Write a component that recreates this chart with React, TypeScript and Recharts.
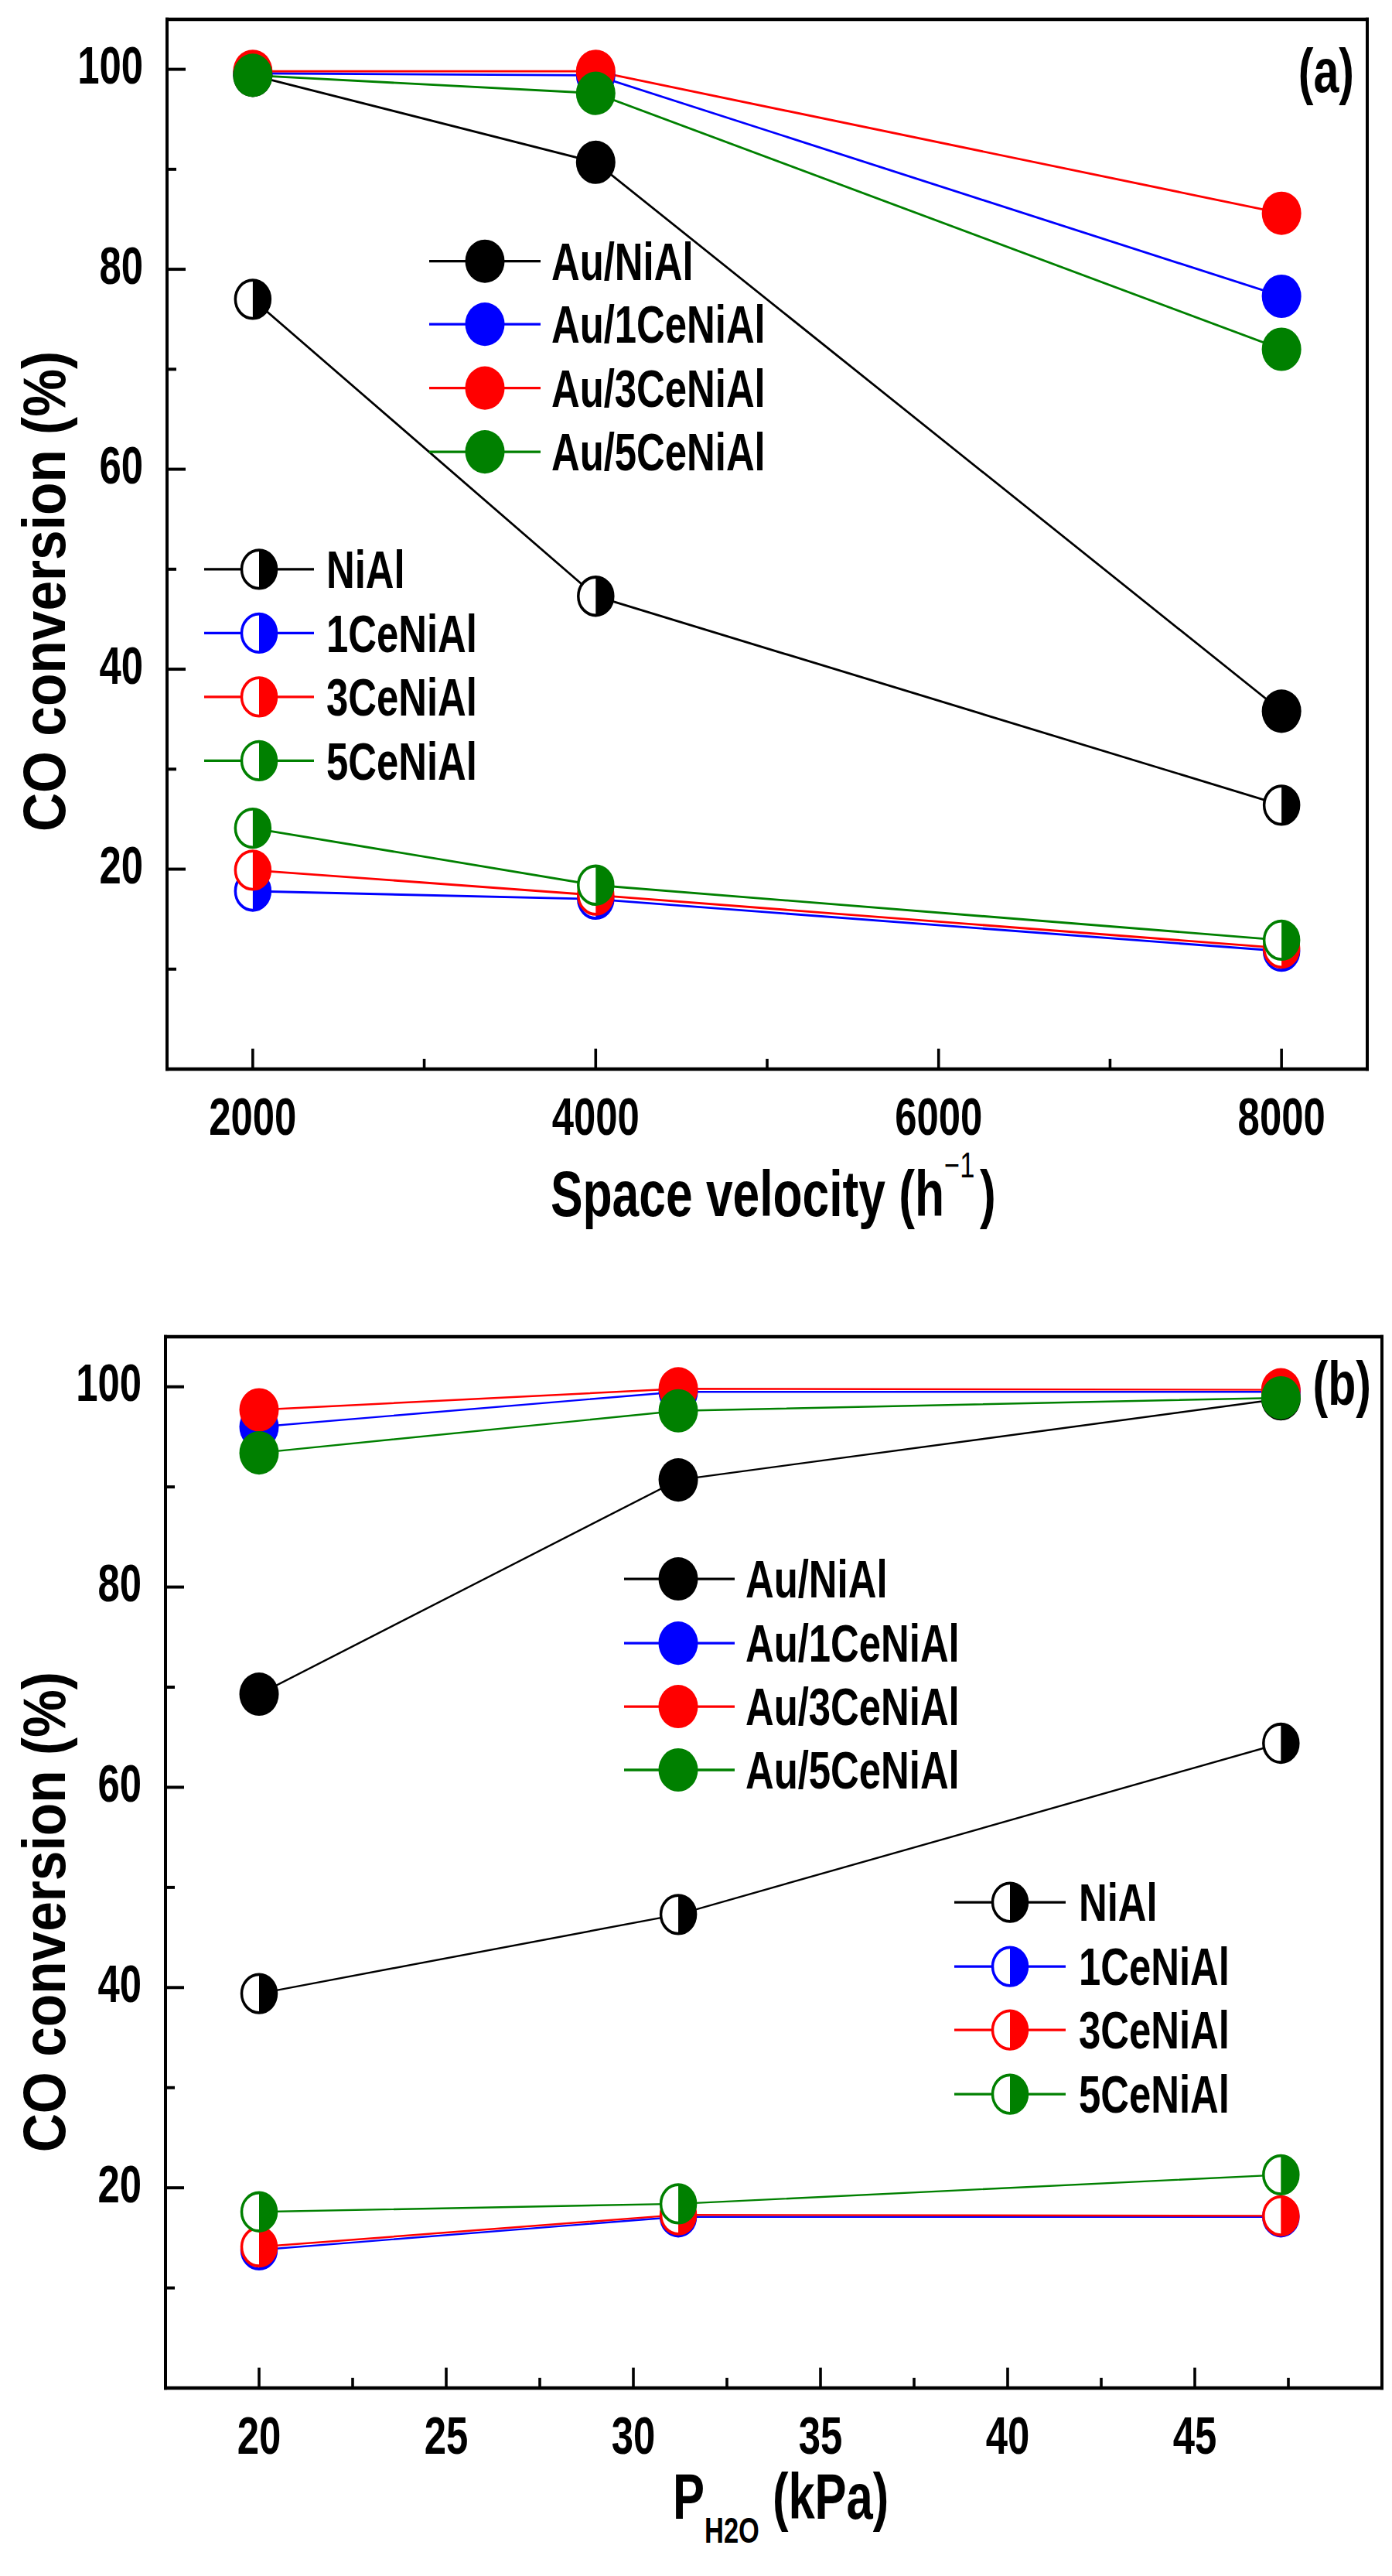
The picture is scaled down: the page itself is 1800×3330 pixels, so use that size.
import React from 'react';
import { LineChart, Line, XAxis, YAxis, ReferenceLine, Legend } from 'recharts';

// the source figure is stretched vertically by about 10%
const STRETCH = 1.1;
// Arial Narrow look: Liberation Sans Bold squeezed horizontally
const NARROW = 0.82;

const names = ['Au/NiAl', 'Au/1CeNiAl', 'Au/3CeNiAl', 'Au/5CeNiAl', 'NiAl', '1CeNiAl', '3CeNiAl', '5CeNiAl'];
const colors = ['#000000', '#0000ff', '#ff0000', '#008000', '#000000', '#0000ff', '#ff0000', '#008000'];

const yTicks = [10, 20, 30, 40, 50, 60, 70, 80, 90, 100];
const yLabels = [20, 40, 60, 80, 100];

// panel (a): space velocity
const velocity = [2000, 4000, 8000];
const velocityTicks = [2000, 3000, 4000, 5000, 6000, 7000, 8000];
const velocityLabels = [2000, 4000, 6000, 8000];
const auNiAlA = [99.4, 90.7, 35.8];
const au1CeA = [99.6, 99.4, 77.3];
const au3CeA = [99.8, 99.8, 85.6];
const au5CeA = [99.4, 97.6, 72.0];
const niAlA = [77.0, 47.3, 26.4];
const ce1A = [17.8, 17.0, 11.8];
const ce3A = [19.9, 17.4, 12.1];
const ce5A = [24.1, 18.4, 12.9];

// panel (b): water partial pressure
const pressure = [20, 31.2, 47.3];
const pressureTicks = [20, 22.5, 25, 27.5, 30, 32.5, 35, 37.5, 40, 42.5, 45, 47.5];
const pressureLabels = [20, 25, 30, 35, 40, 45];
const auNiAlB = [69.3, 90.7, 98.8];
const au1CeB = [96.0, 99.5, 99.5];
const au3CeB = [97.7, 99.8, 99.7];
const au5CeB = [93.4, 97.6, 98.9];
const niAlB = [39.4, 47.3, 64.4];
const ce1B = [13.8, 17.1, 17.1];
const ce3B = [14.1, 17.3, 17.2];
const ce5B = [17.6, 18.4, 21.3];

const KEYS = ['auNiAl', 'au1Ce', 'au3Ce', 'au5Ce', 'niAl', 'ce1', 'ce3', 'ce5'];

const buildRows = (xs: number[], series: number[][]) =>
  xs.map((x, i) => {
    const row: Record<string, number> = { x };
    KEYS.forEach((k, j) => (row[k] = series[j][i]));
    return row;
  });

const dataA = buildRows(velocity, [auNiAlA, au1CeA, au3CeA, au5CeA, niAlA, ce1A, ce3A, ce5A]);
const dataB = buildRows(pressure, [auNiAlB, au1CeB, au3CeB, au5CeB, niAlB, ce1B, ce3B, ce5B]);

const font = {
  fontFamily: "'Liberation Sans', Arial, sans-serif",
  fontWeight: 700,
};

// text drawn at (x, y), optionally rotated, with narrow glyphs
const NText = ({ x, y, size, anchor = 'start', rotate = 0, children }: any) => (
  <text
    x={0}
    y={0}
    transform={`translate(${x},${y}) rotate(${rotate}) scale(${NARROW},1)`}
    textAnchor={anchor}
    fontSize={size}
    fill="#000"
    style={font}
  >
    {children}
  </text>
);

const FullDot = ({ cx, cy, color }: any) => <circle cx={cx} cy={cy} r={25.5} fill={color} />;

const HalfDot = ({ cx, cy, color }: any) => {
  const r = 22.5;
  return (
    <g>
      <circle cx={cx} cy={cy} r={r} fill="#ffffff" stroke={color} strokeWidth={3.5} />
      <path d={`M ${cx} ${cy - r} A ${r} ${r} 0 0 1 ${cx} ${cy + r} Z`} fill={color} />
    </g>
  );
};

const YTick = (props: any) => {
  const { x, y, payload } = props;
  const major = yLabels.includes(payload.value);
  return (
    <g>
      <line x1={x} x2={x + (major ? 24 : 12)} y1={y} y2={y} stroke="#000" strokeWidth={3.6} />
      {major && (
        <NText x={x - 31} y={y + 17} size={62} anchor="end">
          {payload.value}
        </NText>
      )}
    </g>
  );
};

const makeXTick = (labels: number[]) => (props: any) => {
  const { x, y, payload } = props;
  const major = labels.includes(payload.value);
  return (
    <g>
      <line x1={x} x2={x} y1={y} y2={y - (major ? 24 : 12)} stroke="#000" strokeWidth={3.6} />
      {major && (
        <NText x={x} y={y + 77} size={62} anchor="middle">
          {payload.value}
        </NText>
      )}
    </g>
  );
};

type LegendGroup = { rows: number[]; x0: number; x1: number; xm: number; xt: number; half: boolean; offset: number };

const LegendLayer = ({ width, height, groups }: { width: number; height: number; groups: LegendGroup[] }) => (
  <svg width={width} height={height} style={{ display: 'block' }}>
    {groups.map((g, gi) =>
      g.rows.map((y, i) => {
        const idx = g.offset + i;
        const c = colors[idx];
        return (
          <g key={`${gi}-${i}`}>
            <line x1={g.x0} x2={g.x1} y1={y} y2={y} stroke={c} strokeWidth={3} />
            {g.half ? <HalfDot cx={g.xm} cy={y} color={c} /> : <FullDot cx={g.xm} cy={y} color={c} />}
            <NText x={g.xt} y={y + 22} size={62}>
              {names[idx]}
            </NText>
          </g>
        );
      })
    )}
  </svg>
);

const YTitle = ({ cy }: { cy: number }) => (
  <NText x={84} y={cy} size={77} anchor="middle" rotate={-90}>
    CO conversion (%)
  </NText>
);

const XTitleA = () => (
  <NText x={712} y={1429} size={76}>
    Space velocity (h
    <tspan dy={-45} fontSize={42} fontWeight={400}>−1</tspan>
    <tspan dy={45} dx={8}>)</tspan>
  </NText>
);

const XTitleB = () => (
  <NText x={870} y={1460} size={75}>
    P
    <tspan dy={28} fontSize={42}>H2O</tspan>
    <tspan dy={-28}> (kPa)</tspan>
  </NText>
);

const renderLines = (lineWidth: number) =>
  KEYS.map((k, i) => {
    const c = colors[i];
    const half = i >= 4;
    return (
      <Line
        key={k}
        type="linear"
        dataKey={k}
        name={names[i]}
        stroke={c}
        strokeWidth={lineWidth}
        isAnimationActive={false}
        activeDot={false}
        dot={(p: any) =>
          half ? (
            <HalfDot key={`${k}-${p.index}`} cx={p.cx} cy={p.cy} color={c} />
          ) : (
            <FullDot key={`${k}-${p.index}`} cx={p.cx} cy={p.cy} color={c} />
          )
        }
      />
    );
  });

const axisLine = { stroke: '#000', strokeWidth: 4, strokeLinecap: 'square' as const };

const PanelA = () => (
  <LineChart width={1800} height={1500} data={dataA} margin={{ top: 22.7, right: 32, bottom: 93.6, left: 86 }}>
    <XAxis
      type="number"
      dataKey="x"
      domain={[1500, 8500]}
      ticks={velocityTicks}
      interval={0}
      height={150}
      tickSize={0}
      tickMargin={0}
      tickLine={false}
      axisLine={axisLine}
      tick={makeXTick(velocityLabels)}
      label={<XTitleA />}
    />
    <YAxis
      type="number"
      domain={[0, 105]}
      ticks={yTicks}
      interval={0}
      width={130}
      tickSize={0}
      tickMargin={0}
      tickLine={false}
      axisLine={axisLine}
      tick={<YTick />}
      label={<YTitle cy={695} />}
    />
    <ReferenceLine y={105} stroke="#000" strokeWidth={4} strokeLinecap="square" />
    <ReferenceLine x={8500} stroke="#000" strokeWidth={4} strokeLinecap="square" />
    {renderLines(2.6)}
    <Legend
      layout="vertical"
      align="center"
      verticalAlign="middle"
      wrapperStyle={{ position: 'absolute', left: 0, top: 0, width: 1800, height: 1500, pointerEvents: 'none' }}
      content={() => (
        <LegendLayer
          width={1800}
          height={1500}
          groups={[
            { rows: [307, 381, 456, 531], x0: 555, x1: 699, xm: 627, xt: 713, half: false, offset: 0 },
            { rows: [669, 744, 819, 894], x0: 264, x1: 406, xm: 335, xt: 422, half: true, offset: 4 },
          ]}
        />
      )}
    />
    <NText x={1751} y={108} size={72} anchor="end">
      (a)
    </NText>
  </LineChart>
);

const PanelB = () => (
  <LineChart width={1800} height={1527} data={dataB} margin={{ top: 70.9, right: 13, bottom: 70.6, left: 84 }}>
    <XAxis
      type="number"
      dataKey="x"
      domain={[17.5, 50]}
      ticks={pressureTicks}
      interval={0}
      height={150}
      tickSize={0}
      tickMargin={0}
      tickLine={false}
      axisLine={axisLine}
      tick={makeXTick(pressureLabels)}
      label={<XTitleB />}
    />
    <YAxis
      type="number"
      domain={[0, 105]}
      ticks={yTicks}
      interval={0}
      width={130}
      tickSize={0}
      tickMargin={0}
      tickLine={false}
      axisLine={axisLine}
      tick={<YTick />}
      label={<YTitle cy={747} />}
    />
    <ReferenceLine y={105} stroke="#000" strokeWidth={4} strokeLinecap="square" />
    <ReferenceLine x={50} stroke="#000" strokeWidth={4} strokeLinecap="square" />
    {renderLines(2.2)}
    <Legend
      layout="vertical"
      align="center"
      verticalAlign="middle"
      wrapperStyle={{ position: 'absolute', left: 0, top: 0, width: 1800, height: 1527, pointerEvents: 'none' }}
      content={() => (
        <LegendLayer
          width={1800}
          height={1527}
          groups={[
            { rows: [355.5, 431, 505.5, 580], x0: 807, x1: 950, xm: 877, xt: 964, half: false, offset: 0 },
            { rows: [735.5, 811, 885.5, 961], x0: 1234, x1: 1378, xm: 1306, xt: 1395, half: true, offset: 4 },
          ]}
        />
      )}
    />
  </LineChart>
);

const PanelLetterB = () => (
  <svg width={1800} height={200} style={{ position: 'absolute', left: 0, top: 1500, pointerEvents: 'none' }}>
    <NText x={1773} y={151} size={72} anchor="end">
      (b)
    </NText>
  </svg>
);

export default function App() {
  return (
    <div
      style={{
        position: 'absolute',
        left: 0,
        top: 0,
        width: 1800,
        height: 3027,
        background: '#ffffff',
        transform: `scaleY(${STRETCH})`,
        transformOrigin: '0 0',
      }}
    >
      <div style={{ position: 'absolute', left: 0, top: 0 }}>
        <PanelA />
      </div>
      <div style={{ position: 'absolute', left: 0, top: 1500 }}>
        <PanelB />
      </div>
      <PanelLetterB />
    </div>
  );
}
